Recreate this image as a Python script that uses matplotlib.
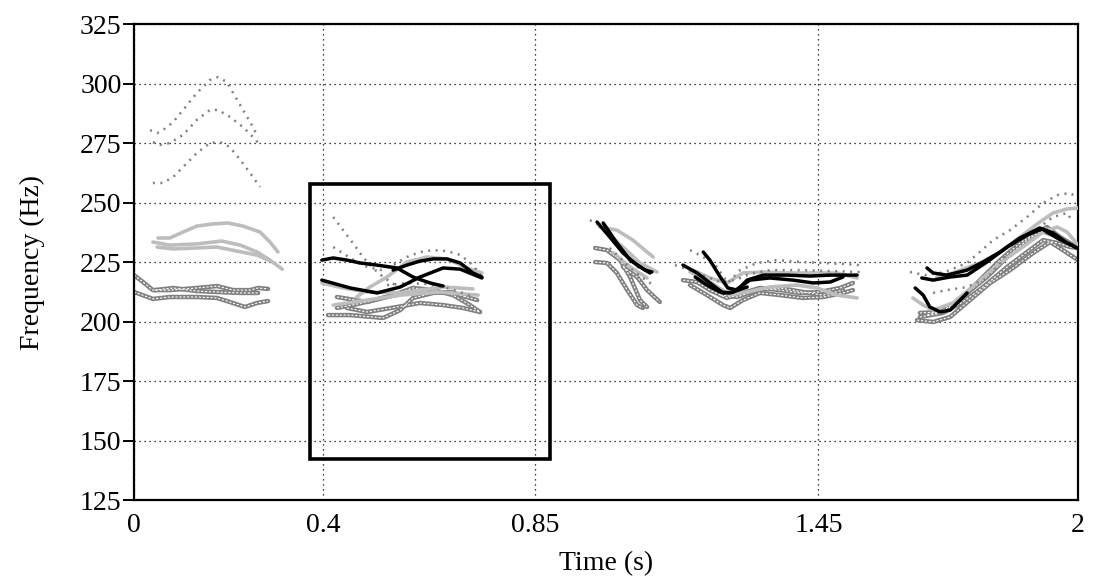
import matplotlib
matplotlib.use("Agg")
import matplotlib.pyplot as plt
from matplotlib.patches import Rectangle

# ---------------- data (time in s, F0 in Hz) ----------------
x_ticks = [0, 0.4, 0.85, 1.45, 2]
x_ticklabels = ["0", "0.4", "0.85", "1.45", "2"]
y_ticks = [125, 150, 175, 200, 225, 250, 275, 300, 325]

# highlighted region (t0, t1, f0, f1)
box_t = [0.373, 0.881]
box_f = [142.2, 257.8]

# cluster 1
c1_dotted = [
    ([0.034, 0.049, 0.061, 0.083, 0.104, 0.133, 0.161, 0.178, 0.197, 0.210, 0.231, 0.252, 0.263],
     [280.4, 279.2, 280.4, 283.8, 288.9, 296.0, 301.5, 302.7, 300.6, 296.0, 288.9, 281.7, 277.5]),
    ([0.040, 0.055, 0.076, 0.104, 0.133, 0.161, 0.178, 0.203, 0.231, 0.252, 0.267],
     [275.4, 274.2, 275.0, 278.4, 284.7, 288.9, 288.9, 286.0, 281.7, 277.5, 274.2]),
    ([0.040, 0.061, 0.083, 0.104, 0.133, 0.161, 0.182, 0.203, 0.225, 0.246, 0.267],
     [258.2, 258.2, 260.7, 264.9, 270.8, 275.0, 275.4, 273.3, 267.9, 262.4, 256.5]),
]
c1_light = [
    ([0.051, 0.076, 0.104, 0.133, 0.167, 0.199, 0.231, 0.267, 0.288, 0.305],
     [235.1, 235.1, 237.6, 240.1, 241.0, 241.4, 240.1, 237.6, 233.4, 229.2]),
    ([0.040, 0.076, 0.133, 0.186, 0.225, 0.261, 0.288, 0.314],
     [233.4, 232.1, 232.6, 233.8, 232.1, 229.2, 225.8, 222.0]),
    ([0.049, 0.083, 0.133, 0.176, 0.218, 0.261, 0.284],
     [231.3, 230.5, 230.9, 231.3, 229.6, 227.9, 225.8]),
]
c1_dashed = [
    ([0.0, 0.019, 0.040, 0.076, 0.133, 0.176, 0.210, 0.246, 0.263, 0.284],
     [219.5, 216.6, 213.2, 213.2, 214.1, 214.9, 213.2, 213.2, 214.1, 213.7]),
    ([0.044, 0.083, 0.133, 0.176, 0.225, 0.263],
     [213.2, 214.1, 212.8, 212.4, 212.0, 212.0]),
    ([0.0, 0.040, 0.076, 0.133, 0.176, 0.203, 0.235, 0.261, 0.284],
     [212.4, 209.5, 210.3, 210.3, 209.9, 208.2, 206.1, 207.8, 208.6]),
]
c1_black = []

# cluster 2
c2_black = [
    ([0.398, 0.422, 0.451, 0.479, 0.515, 0.557, 0.591, 0.627, 0.655],
     [225.8, 226.7, 225.8, 224.6, 223.7, 222.5, 218.7, 216.2, 214.9]),
    ([0.398, 0.458, 0.515, 0.564, 0.606, 0.655, 0.691, 0.737],
     [217.4, 214.1, 212.0, 214.5, 218.7, 222.5, 222.0, 218.3]),
    ([0.549, 0.578, 0.606, 0.634, 0.663, 0.691, 0.718, 0.737],
     [221.6, 223.7, 225.4, 226.3, 226.3, 224.6, 220.4, 218.7]),
]
c2_dotted = [
    ([0.422, 0.443, 0.464, 0.485, 0.506, 0.528, 0.553],
     [243.9, 238.4, 232.9, 227.1, 222.5, 218.7, 215.3]),
    ([0.422, 0.458, 0.489, 0.521, 0.549, 0.578, 0.606, 0.634, 0.663, 0.691, 0.718, 0.737],
     [231.3, 226.7, 223.3, 221.6, 223.7, 227.1, 229.2, 230.0, 229.6, 228.0, 223.7, 218.7]),
    ([0.536, 0.578, 0.621, 0.663, 0.691, 0.712],
     [215.3, 216.2, 215.7, 214.1, 212.4, 210.7]),
]
c2_light = [
    ([0.472, 0.500, 0.536, 0.578, 0.621, 0.663, 0.706, 0.737],
     [210.3, 214.5, 218.7, 225.0, 227.1, 226.3, 222.5, 220.4]),
    ([0.398, 0.443, 0.494, 0.564, 0.606, 0.655, 0.718],
     [216.2, 214.1, 212.4, 212.0, 213.2, 214.5, 213.7]),
    ([0.422, 0.494, 0.564, 0.648, 0.729],
     [206.9, 209.0, 211.1, 212.4, 211.1]),
]
c2_dashed = [
    ([0.430, 0.494, 0.549, 0.591, 0.634, 0.676, 0.712, 0.733],
     [210.3, 208.2, 211.1, 214.1, 213.2, 211.1, 206.9, 204.0]),
    ([0.430, 0.472, 0.536, 0.585, 0.634, 0.676, 0.727],
     [205.7, 207.3, 210.3, 212.4, 212.4, 212.0, 209.0]),
    ([0.411, 0.458, 0.528, 0.564, 0.591, 0.634, 0.670, 0.706],
     [202.7, 202.7, 201.5, 204.8, 209.9, 212.0, 212.4, 210.3]),
    ([0.451, 0.494, 0.557, 0.606, 0.655, 0.697, 0.733],
     [205.7, 204.0, 206.1, 207.8, 206.9, 205.7, 204.0]),
]

# cluster 3
c3_black = [
    ([0.981, 1.008, 1.036, 1.066, 1.093], [241.8, 235.5, 228.8, 223.7, 220.4]),
    ([0.994, 1.023, 1.051, 1.083, 1.097], [241.4, 233.0, 225.8, 221.6, 220.8]),
]
c3_light = [
    ([0.987, 1.023, 1.057, 1.087, 1.100], [239.7, 238.4, 234.2, 229.2, 227.1]),
    ([1.002, 1.036, 1.072, 1.108], [237.2, 231.3, 224.6, 220.8]),
    ([1.015, 1.051, 1.087], [228.8, 222.9, 218.3]),
]
c3_dashed = [
    ([0.977, 1.002, 1.030, 1.051, 1.072, 1.087], [230.9, 230.0, 225.8, 218.7, 209.0, 206.1]),
    ([0.977, 1.002, 1.023, 1.045, 1.066, 1.078], [225.0, 224.6, 220.4, 213.2, 206.9, 205.7]),
    ([1.036, 1.066, 1.087, 1.114], [222.9, 218.7, 213.2, 208.2]),
]
c3_dotted = [
    ([0.966, 0.994, 1.015, 1.036, 1.066, 1.108], [242.6, 239.7, 234.2, 228.8, 222.9, 220.4]),
    ([1.008, 1.030, 1.051, 1.078, 1.100], [230.9, 226.7, 222.5, 218.3, 215.3]),
]

# cluster 4
c4_dotted = [
    ([1.178, 1.206, 1.235, 1.258, 1.284, 1.320, 1.362, 1.417, 1.460, 1.502, 1.538],
     [230.0, 227.1, 222.9, 216.2, 221.6, 224.6, 225.8, 225.0, 224.6, 224.2, 223.7]),
    ([1.146, 1.178, 1.210, 1.242, 1.273, 1.305, 1.347, 1.411, 1.475, 1.538],
     [223.7, 221.6, 219.1, 216.6, 217.4, 220.0, 221.6, 221.6, 221.2, 220.8]),
]
c4_black = [
    ([1.206, 1.220, 1.242, 1.258, 1.278, 1.299, 1.333, 1.383, 1.432, 1.475, 1.532],
     [229.2, 225.8, 218.7, 214.1, 213.2, 217.4, 219.5, 219.5, 219.1, 219.5, 219.5]),
    ([1.163, 1.193, 1.220, 1.248, 1.269, 1.305, 1.347, 1.396, 1.439, 1.475, 1.502],
     [223.7, 220.4, 216.2, 212.0, 212.4, 217.4, 218.3, 217.4, 216.2, 216.6, 218.7]),
    ([1.189, 1.214, 1.242, 1.263, 1.299],
     [218.7, 215.3, 212.4, 212.0, 214.5]),
]
c4_light = [
    ([1.184, 1.220, 1.256, 1.290, 1.333, 1.383, 1.432, 1.489, 1.532],
     [221.6, 218.3, 216.2, 220.4, 220.8, 220.4, 220.4, 220.4, 218.3]),
    ([1.178, 1.220, 1.263, 1.299, 1.347, 1.405, 1.447, 1.489, 1.532],
     [220.8, 216.6, 211.1, 212.4, 214.5, 215.3, 214.1, 211.1, 209.9]),
]
c4_dashed = [
    ([1.163, 1.193, 1.220, 1.256, 1.290, 1.326, 1.369, 1.411, 1.453, 1.496, 1.523],
     [217.4, 216.6, 213.2, 209.9, 212.0, 214.1, 213.2, 212.0, 212.4, 214.1, 216.2]),
    ([1.178, 1.214, 1.248, 1.263, 1.290, 1.326, 1.369, 1.417, 1.460, 1.502, 1.523],
     [215.3, 211.1, 206.9, 205.7, 209.0, 212.0, 211.1, 209.9, 210.3, 212.0, 213.2]),
    ([1.242, 1.278, 1.320, 1.369, 1.417, 1.460, 1.502],
     [211.1, 210.3, 213.2, 214.1, 212.4, 211.1, 213.2]),
]

# cluster 5
c5_dotted = [
    ([1.644, 1.676, 1.718, 1.765, 1.792, 1.820, 1.856, 1.892, 1.926, 1.956, 1.983, 2.0],
     [220.8, 219.5, 220.8, 224.6, 229.2, 234.2, 238.4, 243.9, 249.8, 253.1, 254.0, 251.9]),
    ([1.693, 1.722, 1.765, 1.807, 1.835, 1.856, 1.892, 1.919, 1.947, 1.977, 1.989],
     [212.0, 213.2, 214.5, 218.3, 224.6, 230.0, 235.5, 239.7, 243.9, 245.6, 241.8]),
]
c5_black = [
    ([1.680, 1.693, 1.722, 1.765, 1.799, 1.835, 1.877, 1.919, 1.947, 1.977, 1.998],
     [222.5, 220.4, 219.5, 221.6, 225.0, 229.2, 235.1, 239.3, 237.2, 233.0, 230.9]),
    ([1.669, 1.693, 1.729, 1.765, 1.807, 1.850, 1.892, 1.924, 1.956, 1.998],
     [218.3, 217.4, 218.7, 219.5, 225.0, 231.3, 236.3, 238.9, 235.1, 230.9]),
    ([1.655, 1.672, 1.686, 1.708, 1.729, 1.765],
     [214.1, 211.1, 206.1, 204.0, 204.8, 212.0]),
]
c5_light = [
    ([1.701, 1.735, 1.792, 1.835, 1.877, 1.919, 1.947, 1.977, 2.0],
     [218.7, 220.4, 224.6, 229.2, 235.5, 241.8, 245.6, 247.3, 247.7]),
    ([1.650, 1.672, 1.693, 1.735, 1.786, 1.835, 1.883, 1.926, 1.956, 1.977, 2.0],
     [209.9, 206.9, 204.8, 207.8, 216.2, 224.6, 231.3, 237.6, 239.7, 237.6, 232.1]),
]
c5_dashed = [
    ([1.665, 1.708, 1.750, 1.792, 1.835, 1.877, 1.919, 1.947, 1.977, 2.0],
     [203.6, 204.0, 209.0, 217.4, 225.8, 233.0, 238.4, 236.3, 233.0, 231.3]),
    ([1.680, 1.722, 1.765, 1.807, 1.850, 1.892, 1.934, 1.962, 2.0],
     [202.7, 204.8, 212.0, 218.7, 227.1, 234.2, 239.7, 235.5, 230.9]),
    ([1.659, 1.693, 1.729, 1.771, 1.814, 1.856, 1.905, 1.941, 1.968, 2.0],
     [200.6, 199.8, 201.9, 209.0, 216.2, 221.6, 228.8, 233.4, 230.0, 225.8]),
    ([1.665, 1.714, 1.756, 1.799, 1.850, 1.892, 1.926, 1.956, 1.983, 2.0],
     [201.9, 203.6, 208.2, 214.5, 222.9, 229.2, 234.2, 233.0, 231.3, 230.9]),
]

dashed_all = c1_dashed + c2_dashed + c3_dashed + c4_dashed + c5_dashed
light_all = c1_light + c2_light + c3_light + c4_light + c5_light
dotted_all = c1_dotted + c2_dotted + c3_dotted + c4_dotted + c5_dotted
black_all = c1_black + c2_black + c3_black + c4_black + c5_black

# ---------------- drawing ----------------
plt.rcParams['font.family'] = ['Liberation Serif', 'DejaVu Serif']
fig = plt.figure(figsize=(10.93, 5.80), dpi=100)
ax = fig.add_axes([0.1226, 0.1379, 0.8637, 0.8207])

for t, f in dashed_all:
    ax.plot(t, f, color='#808080', lw=3.2, solid_capstyle='round', zorder=2)
    ax.plot(t, f, color='white', lw=0.8, dashes=(2.0, 1.5), zorder=2.1)
for t, f in light_all:
    ax.plot(t, f, color='#bdbdbd', lw=2.6, solid_capstyle='round', zorder=3)
for t, f in dotted_all:
    ax.plot(t, f, color='#808080', lw=1.8, linestyle=(0, (0.8, 2.2)), zorder=4)
for t, f in black_all:
    ax.plot(t, f, color='black', lw=2.5, solid_capstyle='round', zorder=5)

ax.add_patch(Rectangle((box_t[0], box_f[0]), box_t[1] - box_t[0], box_f[1] - box_f[0],
                       fill=False, edgecolor='black', lw=2.6, zorder=6))

ax.set_xlim(0, 2)
ax.set_ylim(125, 325)
ax.set_xticks(x_ticks)
ax.set_xticklabels(x_ticklabels)
ax.set_yticks(y_ticks)
ax.grid(True, linestyle=(0, (1, 3)), color='black', lw=0.9, zorder=1)
ax.set_axisbelow(True)

for s in ax.spines.values():
    s.set_linewidth(1.6)
ax.tick_params(axis='y', direction='out', length=8, width=1.4, pad=1, labelsize=20)
ax.tick_params(axis='x', direction='in', length=0, pad=9, labelsize=20)

ax.set_xlabel('Time (s)', fontsize=20)
ax.set_ylabel('Frequency (Hz)', fontsize=20)
ax.yaxis.set_label_coords(-0.094, 0.5)
ax.xaxis.set_label_coords(0.5, -0.108)

fig.savefig('out.png', dpi=100)
